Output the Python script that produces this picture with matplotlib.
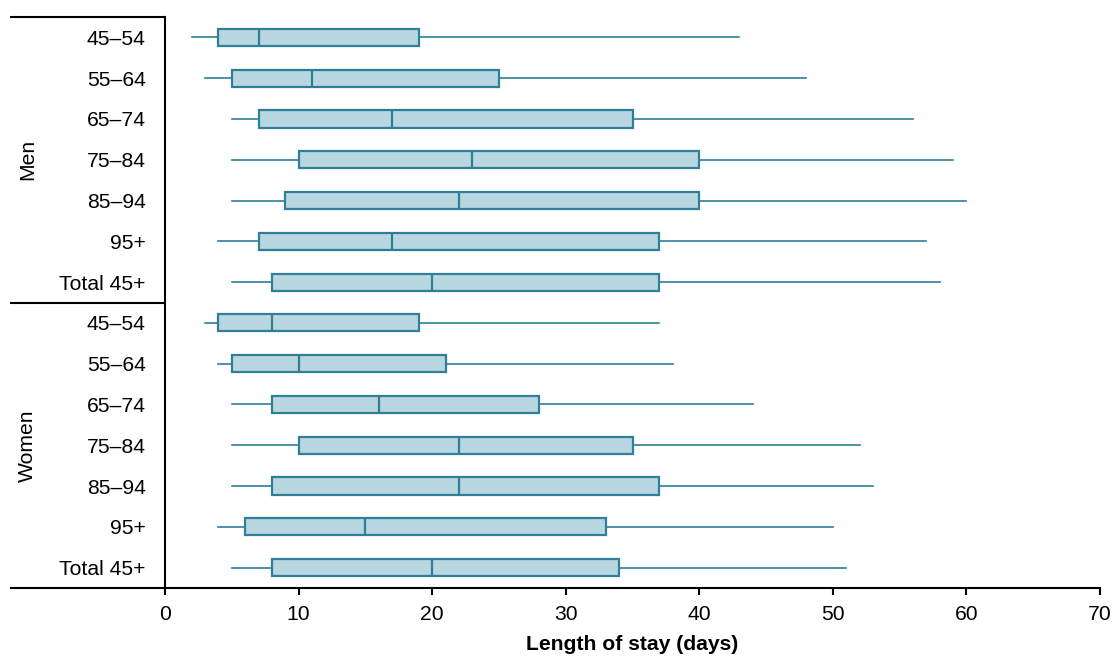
import matplotlib
matplotlib.use("Agg")
import matplotlib.pyplot as plt
import matplotlib.transforms as mtransforms

plt.rcParams['font.family'] = ['Liberation Sans', 'DejaVu Sans']

# Data: whisker low, Q1, median, Q3, whisker high (days)
age_groups = ['45–54', '55–64', '65–74', '75–84', '85–94', '95+', 'Total 45+']
men_low = [2, 3, 5, 5, 5, 4, 5]
men_q1 = [4, 5, 7, 10, 9, 7, 8]
men_med = [7, 11, 17, 23, 22, 17, 20]
men_q3 = [19, 25, 35, 40, 40, 37, 37]
men_high = [43, 48, 56, 59, 60, 57, 58]

women_low = [3, 4, 5, 5, 5, 4, 5]
women_q1 = [4, 5, 8, 10, 8, 6, 8]
women_med = [8, 10, 16, 22, 22, 15, 20]
women_q3 = [19, 21, 28, 35, 37, 33, 34]
women_high = [37, 38, 44, 52, 53, 50, 51]

fill_color = '#b8d7e0'
edge_color = '#2f7f98'
fs = 15.2

stats = []
for low, q1, med, q3, high in zip(men_low + women_low, men_q1 + women_q1,
                                  men_med + women_med, men_q3 + women_q3,
                                  men_high + women_high):
    stats.append({'whislo': low, 'q1': q1, 'med': med, 'q3': q3, 'whishi': high, 'fliers': []})

fig = plt.figure(figsize=(11.17, 6.57), dpi=100)
ax = fig.add_axes([165 / 1117, 1 - 588 / 657, 935 / 1117, 571 / 657])

positions = list(range(len(stats)))
ax.bxp(stats, positions=positions, vert=False, widths=0.42, showcaps=False,
       showfliers=False, patch_artist=True,
       boxprops=dict(facecolor=fill_color, edgecolor=edge_color, linewidth=1.6),
       medianprops=dict(color=edge_color, linewidth=1.6),
       whiskerprops=dict(color=edge_color, linewidth=1.2))

ax.set_ylim(len(stats) - 0.5, -0.5)
ax.set_xlim(0, 70)
ax.set_xticks(range(0, 71, 10))
ax.set_yticks(positions)
ax.set_yticklabels(age_groups + age_groups)
ax.tick_params(axis='y', length=0, labelsize=fs, pad=14)
ax.tick_params(axis='x', length=5, width=1.5, labelsize=fs, pad=7)

for side in ['top', 'right']:
    ax.spines[side].set_visible(False)
ax.spines['left'].set_linewidth(1.5)
ax.spines['bottom'].set_linewidth(1.5)

# group separators and outer lines extending into the label area
trans = mtransforms.blended_transform_factory(ax.transAxes, ax.transData)
x_left = (10 - 165) / 935
for y in [-0.5, 6.5, 13.5]:
    ax.plot([x_left, 0], [y, y], color='black', linewidth=1.5,
            transform=trans, clip_on=False, solid_capstyle='butt')

ax.text(x_left + 0.0185, 3, 'Men', rotation=90, ha='center', va='center',
        fontsize=fs, transform=trans)
ax.text(x_left + 0.0185, 10, 'Women', rotation=90, ha='center', va='center',
        fontsize=fs, transform=trans)

ax.set_xlabel('Length of stay (days)', fontsize=fs, fontweight='bold', labelpad=8)

fig.savefig('out.png', dpi=100)
